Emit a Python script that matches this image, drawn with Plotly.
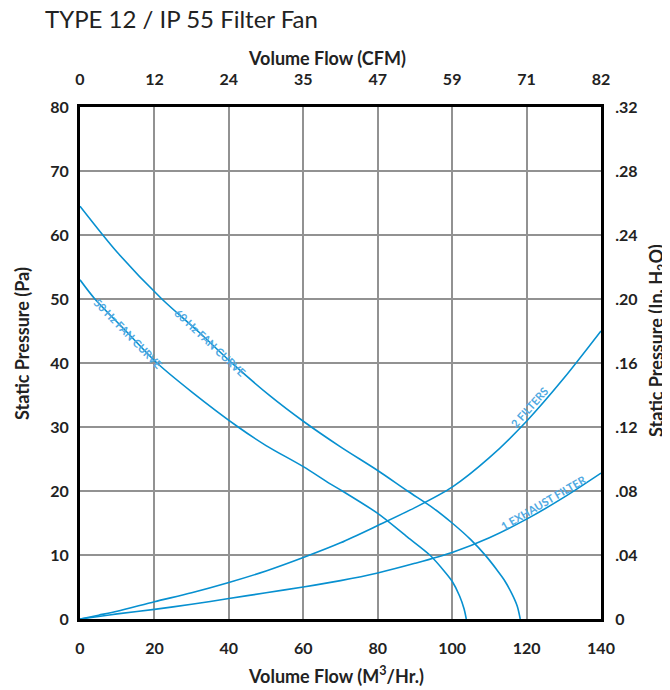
import numpy as np
import plotly.graph_objects as go

# ---- data ----
flow_ticks_m3h = [0, 20, 40, 60, 80, 100, 120, 140]
flow_ticks_cfm = ["0", "12", "24", "35", "47", "59", "71", "82"]
pa_ticks = [0, 10, 20, 30, 40, 50, 60, 70, 80]
inh2o_ticks = [0, 0.04, 0.08, 0.12, 0.16, 0.20, 0.24, 0.28, 0.32]
inh2o_labels = ["0", ".04", ".08", ".12", ".16", ".20", ".24", ".28", ".32"]

fan_a_x = [0, 10, 22, 32, 41, 51, 60, 70, 80, 88, 95, 100, 105, 109, 112, 114, 116, 117.5, 118.3]
fan_a_y = [64.5, 57.3, 50, 44.8, 39.9, 34.9, 30.9, 26.9, 23.2, 20, 17.3, 15, 12.4, 9.9, 7.7, 6.1, 4, 2, 0]

fan_b_x = [0, 4, 12, 20.7, 30, 42.5, 50, 60, 67, 70.5, 80, 88, 94, 98, 100, 102, 103.2, 103.8]
fan_b_y = [53, 50, 45.2, 40, 35.5, 30, 27.1, 23.8, 21.2, 20, 16.5, 12.8, 10, 7.4, 5.9, 3.6, 1.6, 0]

sys_c_x = [0, 5, 10, 20, 30, 40, 50, 60, 70, 80, 90, 100, 110, 120, 130, 140]
sys_c_y = [0, 0.6, 1.2, 2.7, 4.1, 5.7, 7.5, 9.6, 11.9, 14.6, 17.4, 20.6, 25.2, 30.9, 37.6, 45]

sys_d_x = [0, 5, 10, 20, 30, 40, 50, 60, 70, 80, 90, 100, 110, 120, 130, 140]
sys_d_y = [0, 0.4, 0.8, 1.5, 2.3, 3.2, 4.1, 5.0, 6.0, 7.2, 8.7, 10.4, 12.7, 15.6, 19, 22.8]

curve_labels = ["60 Hz FAN CURVE", "50 Hz FAN CURVE", "2 FILTERS", "1 EXHAUST FILTER"]
label_x = [35, 13, 122, 125]
label_shift = [(0, 0), (0, 0), (-5, 5), (-2, 6)]

LINE = "#0790d0"
GRID = "#929292"
FONT = "Lato"

fig = go.Figure()
series = [(fan_a_x, fan_a_y), (fan_b_x, fan_b_y), (sys_c_x, sys_c_y), (sys_d_x, sys_d_y)]
for xs, ys in series:
    fig.add_trace(go.Scatter(x=xs, y=ys, mode="lines",
                             line=dict(color=LINE, width=1.6, shape="spline", smoothing=0.8),
                             hoverinfo="skip", showlegend=False))

# invisible trace to anchor secondary axes
fig.add_trace(go.Scatter(x=[0, 140], y=[0, 0.32], xaxis="x2", yaxis="y2", mode="markers",
                         marker=dict(opacity=0), hoverinfo="skip", showlegend=False))

# plot geometry for label angle computation
px_per_x = 521 / 140
px_per_y = 512 / 80
for (xs, ys), lx, txt, (sx, sy) in zip(series, label_x, curve_labels, label_shift):
    ly = float(np.interp(lx, xs, ys))
    slope = (np.interp(lx + 3, xs, ys) - np.interp(lx - 3, xs, ys)) / 6
    ang = float(np.degrees(np.arctan(slope * px_per_y / px_per_x)))
    fig.add_annotation(x=lx, y=ly, xref="x", yref="y", text=txt, showarrow=False, textangle=-ang,
                       xshift=sx, yshift=sy,
                       font=dict(family=FONT, size=11, color="#4fa9e2", weight="bold"))

axis_font = dict(family=FONT, size=16, color="#222", weight="bold")

# the browser page adds an 8px body margin, so the figure is 8px smaller and shifted
FIG_W, FIG_H = 662, 682
fig.update_layout(
    width=FIG_W, height=FIG_H,
    margin=dict(l=72, r=69, t=99, b=71),
    paper_bgcolor="white", plot_bgcolor="white",
    title=dict(text="TYPE 12 / IP 55 Filter Fan", xref="container", yref="container",
               x=(45 - 8) / FIG_W, y=1 - (20 - 8) / FIG_H, xanchor="left", yanchor="middle",
               font=dict(family=FONT, size=24, color="#222")),
    xaxis=dict(range=[0, 140], tickvals=flow_ticks_m3h, showgrid=True, gridcolor=GRID, gridwidth=2,
               zeroline=False, showline=True, linecolor="black", linewidth=3, mirror=False,
               ticks="outside", ticklen=13, tickcolor="rgba(0,0,0,0)", tickfont=axis_font),
    yaxis=dict(range=[0, 80], tickvals=pa_ticks, showgrid=True, gridcolor=GRID, gridwidth=2,
               zeroline=False, showline=True, linecolor="black", linewidth=3, mirror=False,
               ticks="outside", ticklen=5, tickcolor="rgba(0,0,0,0)", tickfont=axis_font),
    xaxis2=dict(range=[0, 140], overlaying="x", side="top", tickvals=flow_ticks_m3h, ticktext=flow_ticks_cfm,
                showgrid=False, zeroline=False, showline=True, linecolor="black", linewidth=3,
                ticks="outside", ticklen=13, tickcolor="rgba(0,0,0,0)", tickfont=axis_font),
    yaxis2=dict(range=[0, 0.32], overlaying="y", side="right", tickvals=inh2o_ticks, ticktext=inh2o_labels,
                showgrid=False, zeroline=False, showline=True, linecolor="black", linewidth=3,
                ticks="outside", ticklen=8, tickcolor="rgba(0,0,0,0)", tickfont=axis_font),
)

def ann(text, px, py, size, angle=0, weight="bold", xanchor="center"):
    fig.add_annotation(x=(px - 80) / 521, y=(619 - py) / 512, xref="paper", yref="paper", text=text,
                       showarrow=False, textangle=angle, xanchor=xanchor, yanchor="middle",
                       font=dict(family=FONT, size=size, color="#222", weight=weight))

ann("Volume Flow (CFM)", 327, 58, 18)
ann("Volume Flow (M<sup>3</sup>/Hr.)", 336, 675, 18)
ann("Static Pressure (Pa)", 22, 344, 18, angle=-90)
ann("Static Pressure (In. H<sub>2</sub>O)", 657, 341, 18, angle=-90)

fig.write_html("out.html")
